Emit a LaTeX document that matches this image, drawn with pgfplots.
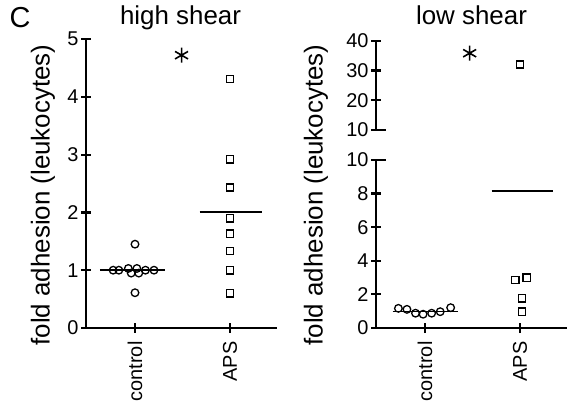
\documentclass[border=0pt]{standalone}
\usepackage{fontspec}
\setmainfont{Liberation Sans}
\usepackage{pgfplots}
\pgfplotsset{compat=1.18}

\pgfplotsset{
  shearax/.style={
    scale only axis, width=191bp, anchor=south west, clip=false,
    xmin=-0.5158, xmax=1.4947,
    tick align=outside, major tick length=10bp,
    /pgf/number format/assume math mode=true,
    tick label style={font=\fontsize{20}{20}\selectfont},
    yticklabel style={xshift=1bp},
  },
  catx/.style={
    axis x line=bottom, xtick={0,1}, xticklabels={control,APS},
    x tick label style={rotate=90, anchor=east},
    xticklabel shift=5bp,
  },
  lines/.style={
    axis y line=left,
    x axis line style={-, line width=1.8bp},
    y axis line style={-, line width=1.8bp},
    tick style={line width=2.2bp, black},
    major tick style={line width=2.2bp, black},
  },
  ctrl/.style={only marks, mark=o, mark size=3.8bp, mark options={line width=1.3bp, black}},
  aps/.style={only marks, mark=square, mark size=3.6bp, mark options={line width=1.5bp, black}},
  star/.style={only marks, mark=asterisk, mark size=7.5bp, mark options={line width=1.6bp, black}},
  meanln/.style={no marks, black, line width=1.5bp},
}

\begin{document}
\begin{tikzpicture}
\path[use as bounding box] (0,0) rectangle (567bp,415bp);

% high shear
\begin{axis}[shearax, catx, lines, at={(86bp,87bp)}, height=289bp,
  ymin=0, ymax=5, ytick={0,1,2,3,4,5}]
\addplot[ctrl] coordinates {(0,1.45) (0,0.61) (-0.23,1.0) (-0.17,1.0) (-0.07,1.03)
  (-0.04,0.95) (0.02,1.03) (0.04,0.95) (0.11,1.0) (0.20,1.0)};
\addplot[aps] coordinates {(1,4.31) (1,2.92) (1,2.43) (1,1.90) (1,1.63) (1,1.33) (1,1.0) (1,0.60)};
\addplot[meanln] coordinates {(-0.37,1.0) (0.32,1.0)};
\addplot[meanln] coordinates {(0.68,2.01) (1.34,2.01)};
\addplot[star] coordinates {(0.49,4.72)};
\end{axis}

% low shear, lower part
\begin{axis}[shearax, catx, lines, at={(376bp,87bp)}, height=168bp,
  ymin=0, ymax=10, ytick={0,2,4,6,8,10},
  extra y ticks={10}, extra y tick labels={},
  extra y tick style={tick align=inside}]
\addplot[ctrl] coordinates {(-0.28,1.17) (-0.19,1.11) (-0.10,0.88) (-0.02,0.82)
  (0.07,0.88) (0.16,0.97) (0.27,1.21)};
\addplot[aps] coordinates {(0.95,2.86) (1.07,2.99) (1.02,1.77) (1.02,0.97)};
\addplot[meanln] coordinates {(-0.34,0.97) (0.35,0.97)};
\addplot[meanln] coordinates {(0.70,8.15) (1.35,8.15)};
\end{axis}

% low shear, upper part
\begin{axis}[shearax, axis x line=none, lines, at={(376bp,285bp)}, height=89.3bp,
  ymin=10, ymax=40, ytick={10,20,30,40},
  extra y ticks={10}, extra y tick labels={},
  extra y tick style={tick align=inside}]
\addplot[aps] coordinates {(1.0,32)};
\addplot[star] coordinates {(0.47,35.8)};
\end{axis}

\node[font=\fontsize{29}{29}\selectfont] at (20bp,397bp) {C};
\node[font=\fontsize{26}{26}\selectfont, anchor=base] at (180.5bp,390bp) {high shear};
\node[font=\fontsize{26}{26}\selectfont, anchor=base] at (471.5bp,390bp) {low shear};
\node[font=\fontsize{26}{26}\selectfont, rotate=90] at (43bp,220bp) {fold adhesion (leukocytes)};
\node[font=\fontsize{26}{26}\selectfont, rotate=90] at (316bp,220bp) {fold adhesion (leukocytes)};
\end{tikzpicture}
\end{document}
